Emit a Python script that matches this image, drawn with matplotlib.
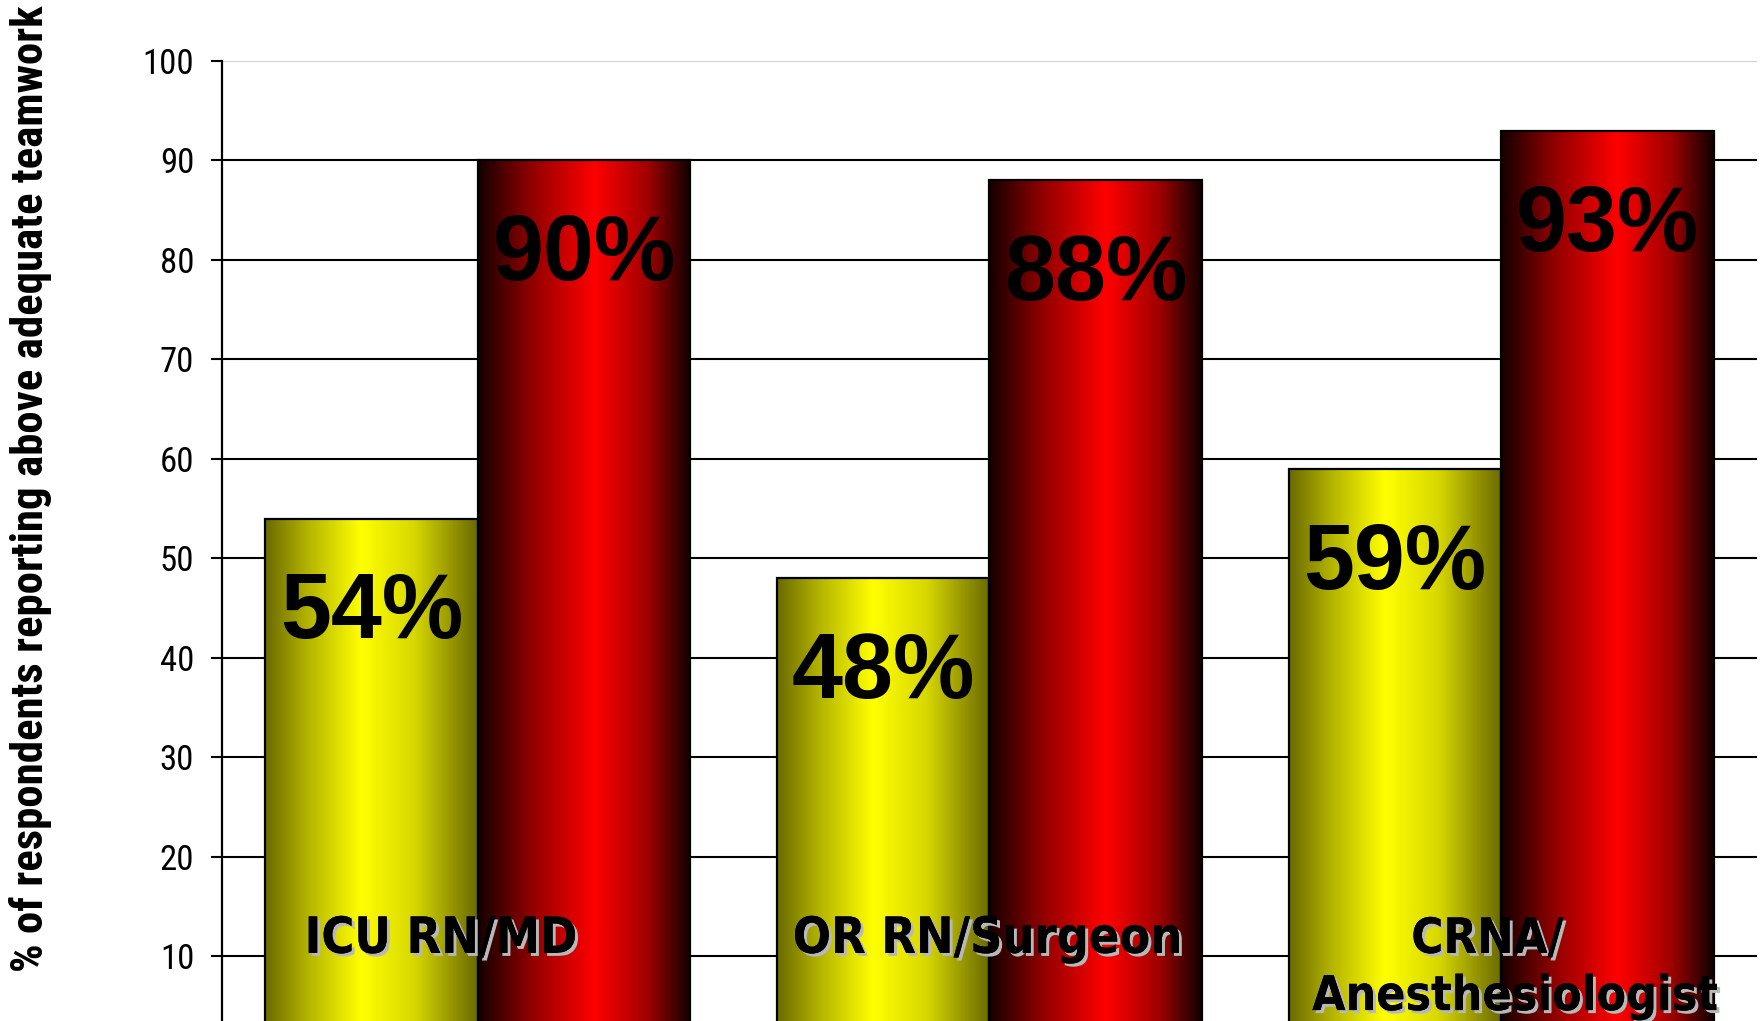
import numpy as np
import matplotlib
matplotlib.use("Agg")
import matplotlib.pyplot as plt
from matplotlib.colors import LinearSegmentedColormap
import matplotlib.patheffects as pe

categories = ["ICU RN/MD", "OR RN/Surgeon", "CRNA/\nAnesthesiologist"]
yellow_vals = [54, 48, 59]
red_vals = [90, 88, 93]
yticks = [10, 20, 30, 40, 50, 60, 70, 80, 90, 100]
ylabel = "% of respondents reporting above adequate teamwork"

W, H = 1762, 1021
fig = plt.figure(figsize=(W / 100, H / 100), dpi=100)
ax = fig.add_axes([222 / W, 0, (1757 - 222) / W, 1 - 61 / H])

yellow_cmap = LinearSegmentedColormap.from_list(
    "yel", [(0, "#6a6a00"), (0.2, "#b4b400"), (0.45, "#ffff00"),
            (0.7, "#d8d800"), (1, "#6a6a00")])
red_cmap = LinearSegmentedColormap.from_list(
    "red", [(0, "#150000"), (0.25, "#900000"), (0.55, "#ff0000"),
            (0.8, "#a00000"), (1, "#100000")])

x = np.arange(len(categories))
bw = 0.415
grad = np.linspace(0, 1, 256).reshape(1, -1)


def gradient_bars(xs, vals, cmap):
    bars = ax.bar(xs, vals, width=bw, align="edge",
                  color="none", edgecolor="black", linewidth=1.6, zorder=3)
    for b in bars:
        x0, y0 = b.get_x(), b.get_y()
        im = ax.imshow(grad, cmap=cmap, aspect="auto",
                       extent=(x0, x0 + b.get_width(), y0, y0 + b.get_height()),
                       zorder=2.5, interpolation="bicubic")
        im.set_clip_path(b)
    return bars


gradient_bars(x - bw, yellow_vals, yellow_cmap)
gradient_bars(x, red_vals, red_cmap)
ax.set_xlim(-0.5, 2.5)
ax.set_ylim(3.5, 100)

# value labels
for xi, v in zip(x - bw / 2, yellow_vals):
    ax.text(xi, v - 12.05, f"{v}%", ha="center", va="baseline",
            fontsize=66, fontweight="bold", family="Liberation Sans", zorder=5)
for xi, v in zip(x + bw / 2, red_vals):
    ax.text(xi, v - 12.05, f"{v}%", ha="center", va="baseline",
            fontsize=66, fontweight="bold", family="Liberation Sans", zorder=5)

# category labels
shadow = [pe.withSimplePatchShadow(offset=(2.2, -2.2), shadow_rgbFace="#b8b8b8", alpha=1.0),
          pe.Normal()]
cat_font = dict(fontweight="bold", family="DejaVu Sans",
                fontstretch="condensed", color="black", zorder=6)
lines = [(categories[0], -0.072, 10.35),
         (categories[1], -0.004, 10.35)]
for (txt, dx, yb), xi in zip(lines, x[:2]):
    t = ax.text(xi + dx, yb, txt, ha="center", va="baseline", fontsize=36, **cat_font)
    t.set_path_effects(shadow)
l1, l2 = categories[2].split("\n")
t = ax.text(x[2] - 0.027, 10.35, l1, ha="center", va="baseline", fontsize=35, **cat_font)
t.set_path_effects(shadow)
t = ax.text(x[2] + 0.027, 4.6, l2, ha="center", va="baseline", fontsize=34.5, **cat_font)
t.set_path_effects(shadow)

# axes styling
ax.set_yticks(yticks)
ax.set_yticklabels([str(v) for v in yticks], family="Roboto Condensed", fontsize=25)
ax.set_xticks([])
ax.tick_params(axis="y", direction="out", length=8, width=1.5, pad=12, colors="black")
ax.yaxis.grid(True, color="black", linewidth=1.5, zorder=1)
ax.set_axisbelow(True)
gl = ax.yaxis.get_gridlines()
gl[-1].set_color("#d0d0d0")
for s in ["top", "right", "bottom"]:
    ax.spines[s].set_visible(False)
ax.spines["left"].set_linewidth(1.6)

fig.text(31 / W, 1 - 489 / H, ylabel, rotation=90, ha="center", va="center",
         family="Roboto Condensed", fontweight="bold", fontsize=32.3)

fig.savefig("out.png", dpi=100)
